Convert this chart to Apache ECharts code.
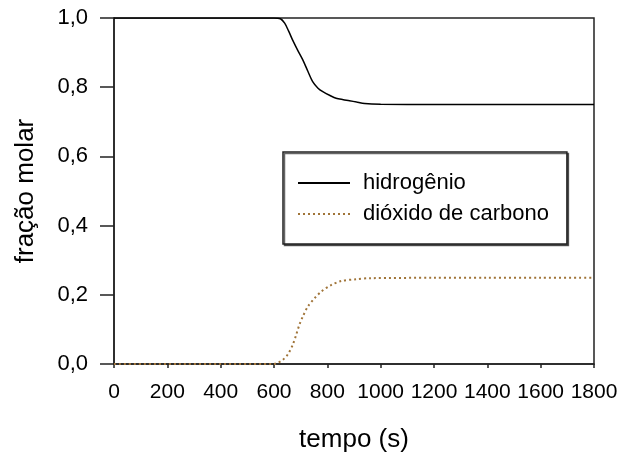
<!DOCTYPE html>
<html>
<head>
<meta charset="utf-8">
<script src="https://cdn.jsdelivr.net/npm/echarts@6/dist/echarts.min.js"></script>
<style>
html,body{margin:0;padding:0;background:#fff;}
#chart{width:621px;height:465px;}
</style>
</head>
<body>
<div id="chart"></div>
<script>
// tempo (s) and fração molar of hidrogênio
var h2Time = [0, 600, 624, 640, 655, 670, 690, 708, 727, 745, 765, 783, 810, 833, 860, 883, 910, 940, 1000, 1200, 1400, 1600, 1800];
var h2Frac = [1, 1, 0.998, 0.985, 0.962, 0.936, 0.905, 0.879, 0.846, 0.816, 0.797, 0.787, 0.776, 0.768, 0.764, 0.761, 0.757, 0.753, 0.751, 0.75, 0.75, 0.75, 0.75];
// tempo (s) and fração molar of dióxido de carbono
var co2Time = [0, 600, 615, 633, 652, 670, 683, 695, 708, 727, 752, 777, 814, 852, 908, 960, 1200, 1400, 1600, 1800];
var co2Frac = [0, 0, 0.004, 0.012, 0.028, 0.055, 0.084, 0.113, 0.137, 0.166, 0.19, 0.209, 0.228, 0.24, 0.245, 0.248, 0.249, 0.249, 0.249, 0.249];
var seriesNames = ['hidrogênio', 'dióxido de carbono'];
var xTitle = 'tempo (s)';
var yTitle = 'fração molar';

function pairs(xs, ys) { return xs.map(function (x, i) { return [x, ys[i]]; }); }

var font = 'Liberation Sans, Arial, sans-serif';
var chart = echarts.init(document.getElementById('chart'), null, {renderer: 'canvas'});
chart.setOption({
  animation: false,
  backgroundColor: '#fff',
  grid: {left: 114, right: 27, top: 18, bottom: 101, show: true, borderColor: '#222', borderWidth: 1.5, backgroundColor: 'transparent'},
  legend: {
    orient: 'vertical', left: 283, top: 152,
    data: seriesNames,
    itemWidth: 52, itemHeight: 14, itemGap: 9,
    padding: [20, 18, 19, 14],
    borderColor: '#222', borderWidth: 1.5, backgroundColor: '#fff',
    shadowColor: 'rgba(0,0,0,0.6)', shadowOffsetX: 1.5, shadowOffsetY: 1.5, shadowBlur: 0,
    itemStyle: {opacity: 0, borderWidth: 0},
    textStyle: {fontFamily: font, fontSize: 22, color: '#000', padding: [0, 0, 0, 8], lineHeight: 20}
  },
  xAxis: {
    type: 'value', min: 0, max: 1800, interval: 200,
    name: xTitle, nameLocation: 'middle', nameGap: 63,
    nameTextStyle: {fontFamily: font, fontSize: 26, color: '#000'},
    axisLine: {show: true, onZero: false, lineStyle: {color: '#222', width: 1.5}},
    axisTick: {show: true, inside: false, length: 4, lineStyle: {color: '#222', width: 1.5}},
    axisLabel: {fontFamily: font, fontSize: 21, color: '#000', margin: 18,
      formatter: function (v) { return String(v); }},
    splitLine: {show: false}
  },
  yAxis: {
    type: 'value', min: 0, max: 1, interval: 0.2,
    name: yTitle, nameLocation: 'middle', nameGap: 75,
    nameTextStyle: {fontFamily: font, fontSize: 26, color: '#000'},
    axisLine: {show: true, onZero: false, lineStyle: {color: '#222', width: 1.5}},
    axisTick: {show: true, inside: false, length: 14, lineStyle: {color: '#222', width: 1.5}},
    axisLabel: {fontFamily: font, fontSize: 22, color: '#000', margin: 26,
      formatter: function (v) { return v.toFixed(1).replace('.', ','); }},
    splitLine: {show: false}
  },
  series: [
    {name: seriesNames[0], type: 'line', data: pairs(h2Time, h2Frac), showSymbol: false, symbol: 'none', smooth: 0.3,
     lineStyle: {color: '#000', width: 1.5, type: 'solid'}, itemStyle: {color: '#000'}},
    {name: seriesNames[1], type: 'line', data: pairs(co2Time, co2Frac), showSymbol: false, symbol: 'none', smooth: 0.3,
     lineStyle: {color: '#a07438', width: 2, type: [2, 3]}, itemStyle: {color: '#a07438'}}
  ]
});
</script>
</body>
</html>
